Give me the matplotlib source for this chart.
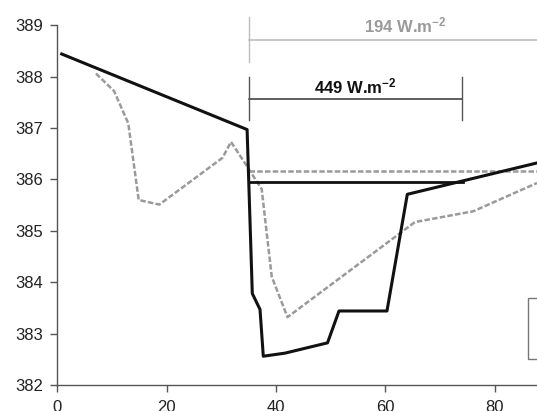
import matplotlib
matplotlib.use("Agg")
import matplotlib.pyplot as plt
from matplotlib.patches import Rectangle

plt.rcParams['font.family'] = ['Liberation Sans', 'DejaVu Sans']
plt.rcParams['mathtext.fontset'] = 'custom'
plt.rcParams['mathtext.rm'] = 'Liberation Sans:bold'
plt.rcParams['mathtext.bf'] = 'Liberation Sans:bold'
plt.rcParams['mathtext.default'] = 'bf'

# High-irradiance run (solid black)
x_high = [0.8, 34.7, 35.65, 37.06, 37.66, 41.63, 49.4, 51.5, 60.27, 63.99, 87.7]
y_high = [388.44, 386.97, 383.78, 383.47, 382.56, 382.62, 382.82, 383.44, 383.44, 385.71, 386.32]

# Low-irradiance run (grey dashed)
x_low = [7.07, 10.37, 12.98, 14.88, 18.65, 30.2, 31.76, 34.77, 37.37, 39.2, 42.08, 65.39, 76.05, 87.7]
y_low = [388.06, 387.72, 387.09, 385.6, 385.51, 386.42, 386.73, 386.24, 385.81, 384.11, 383.32, 385.17, 385.38, 385.93]

# Mean levels during the exposure periods
x_mean_high = [35.1, 74.2]
y_mean_high = [385.95, 385.95]
x_mean_low = [35.1, 87.7]
y_mean_low = [386.16, 386.16]

# Exposure period brackets
bracket_start = 35.05
bracket_high_end = 73.93
bracket_low_end = 87.7
label_high = "449 W.m$^{-2}$"
label_low = "194 W.m$^{-2}$"

x_ticks = [0, 20, 40, 60, 80]
y_ticks = [382, 383, 384, 385, 386, 387, 388, 389]

fig = plt.figure(figsize=(5.37, 4.11), dpi=100)
ax = fig.add_axes([57.3 / 537, 26 / 411, (537 - 57.3) / 537, (385 - 25.2) / 411])

grey = '#9a9a9a'
ax.plot(x_mean_low, y_mean_low, color=grey, lw=1.8, dashes=(2.2, 0.9), solid_capstyle='butt')
ax.plot(x_low, y_low, color=grey, lw=1.8, dashes=(2.2, 0.9))
ax.plot(x_mean_high, y_mean_high, color='#111111', lw=2.0)
ax.plot(x_high, y_high, color='#111111', lw=2.2)

# 194 W.m-2 bracket
ax.plot([bracket_start, bracket_low_end], [388.71, 388.71], color='#bdbdbd', lw=1.2, clip_on=False)
ax.plot([bracket_start, bracket_start], [388.29, 389.16], color='#bdbdbd', lw=1.0, clip_on=False)
ax.text(63.6, 389.0, label_low, color='#9a9a9a', fontsize=12, fontweight='bold',
        ha='center', va='center')

# 449 W.m-2 bracket
ax.plot([bracket_start, bracket_high_end], [387.57, 387.57], color='#333333', lw=1.1)
ax.plot([bracket_start, bracket_start], [387.15, 387.99], color='#555555', lw=1.0)
ax.plot([bracket_high_end, bracket_high_end], [387.15, 387.99], color='#555555', lw=1.0)
ax.text(54.5, 387.8, label_high, color='#111111', fontsize=12, fontweight='bold',
        ha='center', va='center')

# Legend frame at the right edge
ax.add_patch(Rectangle((86.1, 382.51), 5.0, 1.19, fill=False,
                       edgecolor='#777777', lw=1.0, clip_on=False))

ax.set_xlim(0, 87.7)
ax.set_ylim(382, 389)
ax.set_xticks(x_ticks)
ax.set_yticks(y_ticks)
for s in ['top', 'right']:
    ax.spines[s].set_visible(False)
for s in ['left', 'bottom']:
    ax.spines[s].set_color('#555555')
    ax.spines[s].set_linewidth(1.0)
ax.tick_params(axis='both', direction='out', length=5, width=1.0, color='#555555',
               labelsize=12, labelcolor='#222222')
ax.tick_params(axis='y', pad=5)
ax.tick_params(axis='x', pad=6)

fig.savefig('out.png', dpi=100)
